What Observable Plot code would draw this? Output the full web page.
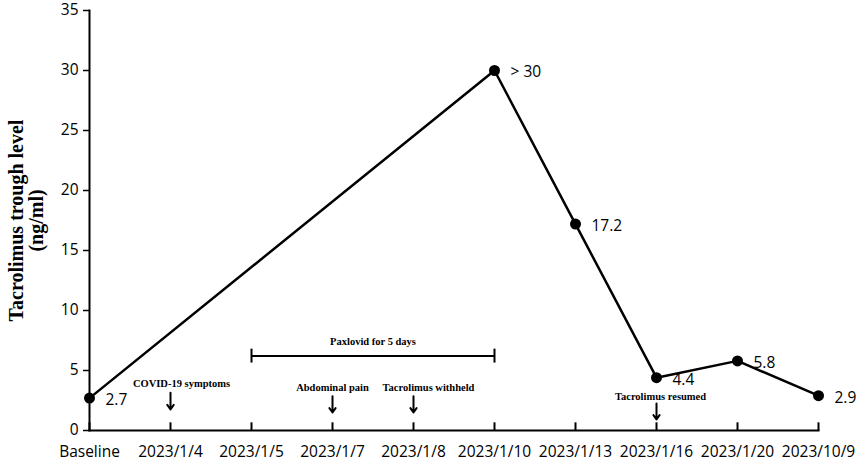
<!DOCTYPE html>
<html>
<head>
<meta charset="utf-8">
<script src="https://cdn.jsdelivr.net/npm/d3@7"></script>
<script src="https://cdn.jsdelivr.net/npm/@observablehq/plot@0.6"></script>
<style>
  html, body { margin: 0; padding: 0; background: #fff; }
  #chart svg { display: block; }
</style>
</head>
<body>
<div id="chart"></div>
<script>
const categories = ["Baseline","2023/1/4","2023/1/5","2023/1/7","2023/1/8","2023/1/10","2023/1/13","2023/1/16","2023/1/20","2023/10/9"];
const measuredDates = ["Baseline","2023/1/10","2023/1/13","2023/1/16","2023/1/20","2023/10/9"];
const levels = [2.7, 30, 17.2, 4.4, 5.8, 2.9];
const levelLabels = ["2.7", "> 30", "17.2", "4.4", "5.8", "2.9"];
const yTicks = [0, 5, 10, 15, 20, 25, 30, 35];

const events = ["COVID-19 symptoms", "Abdominal pain", "Tacrolimus withheld", "Tacrolimus resumed"];
const eventDates = ["2023/1/4", "2023/1/7", "2023/1/8", "2023/1/16"];
const eventLabelY = [3.9, 3.6, 3.6, 2.85];
const eventArrowTop = [3.15, 2.85, 2.85, 2.25];
const eventArrowBottom = [1.75, 1.5, 1.5, 0.92];
const eventDx = [11, 0, 15, 4];

const paxlovidLabel = "Paxlovid for 5 days";
const paxlovidStart = "2023/1/5";
const paxlovidEnd = "2023/1/10";
const paxlovidY = 6.2;
const paxlovidLabelY = 7.4;

const points = measuredDates.map((d, i) => ({date: d, level: levels[i], label: levelLabels[i]}));
const tickData = categories.map(c => ({date: c, y1: 0, y2: 0.68}));

const W = 858, H = 461, ML = 89, MR = 40, MT = 10, MB = 31;
const xScale = Plot.scale({x: {type: "point", domain: categories, range: [ML, W - MR], padding: 0}});
const paxHalf = (xScale.apply(paxlovidEnd) - xScale.apply(paxlovidStart)) / 2;

const sans = "'Open Sans', 'Noto Sans', sans-serif";
const serif = "'Liberation Serif', 'DejaVu Serif', serif";

const eventMarks = events.flatMap((e, i) => [
  Plot.text([e], {x: () => eventDates[i], y: () => eventLabelY[i], text: d => d, dx: eventDx[i],
    fontFamily: serif, fontWeight: "bold", fontSize: 10.5}),
  Plot.arrow([e], {x1: () => eventDates[i], x2: () => eventDates[i], y1: () => eventArrowTop[i], y2: () => eventArrowBottom[i],
    strokeWidth: 2, headLength: 8, headAngle: 70, stroke: "#000"})
]);

const chart = Plot.plot({
  width: W,
  height: H,
  marginLeft: ML,
  marginRight: MR,
  marginTop: MT,
  marginBottom: MB,
  style: {fontFamily: sans, fontSize: "15.5px", color: "#000", background: "#fff"},
  x: {type: "point", domain: categories, padding: 0},
  y: {domain: [0, 35]},
  marks: [
    Plot.axisY({ticks: yTicks, tickSize: 6, tickPadding: 5, strokeWidth: 1.5, fontSize: 15.5, label: null}),
    Plot.axisX({tickSize: 0, tickPadding: 15, fontSize: 15.5, label: null}),
    Plot.frame({anchor: "left", strokeWidth: 2}),
    Plot.frame({anchor: "bottom", strokeWidth: 2}),
    Plot.link(tickData, {x1: "date", x2: "date", y1: "y1", y2: "y2", strokeWidth: 2, stroke: "#000"}),
    Plot.text(["Tacrolimus trough level\n(ng/ml)"], {
      frameAnchor: "left", rotate: -90, dx: -63, lineHeight: 1.0,
      fontFamily: serif, fontWeight: "bold", fontSize: 20, textAnchor: "middle"
    }),
    Plot.line(points, {x: "date", y: "level", strokeWidth: 2.5, stroke: "#000"}),
    Plot.dot(points, {x: "date", y: "level", r: 5.5, fill: "#000", stroke: "none"}),
    Plot.text(points, {x: "date", y: "level", text: "label", dx: 16, dy: 2, textAnchor: "start", fontSize: 15.5}),
    Plot.ruleY([paxlovidY], {y: d => d, x1: () => paxlovidStart, x2: () => paxlovidEnd, strokeWidth: 2, stroke: "#000"}),
    Plot.ruleX([paxlovidStart, paxlovidEnd], {x: d => d, y1: () => paxlovidY - 0.58, y2: () => paxlovidY + 0.58, strokeWidth: 2, stroke: "#000"}),
    Plot.text([paxlovidLabel], {
      x: () => paxlovidStart, y: () => paxlovidLabelY, text: d => d, dx: paxHalf,
      fontFamily: serif, fontWeight: "bold", fontSize: 10.5
    }),
    ...eventMarks
  ]
});
document.getElementById("chart").appendChild(chart);
</script>
</body>
</html>
